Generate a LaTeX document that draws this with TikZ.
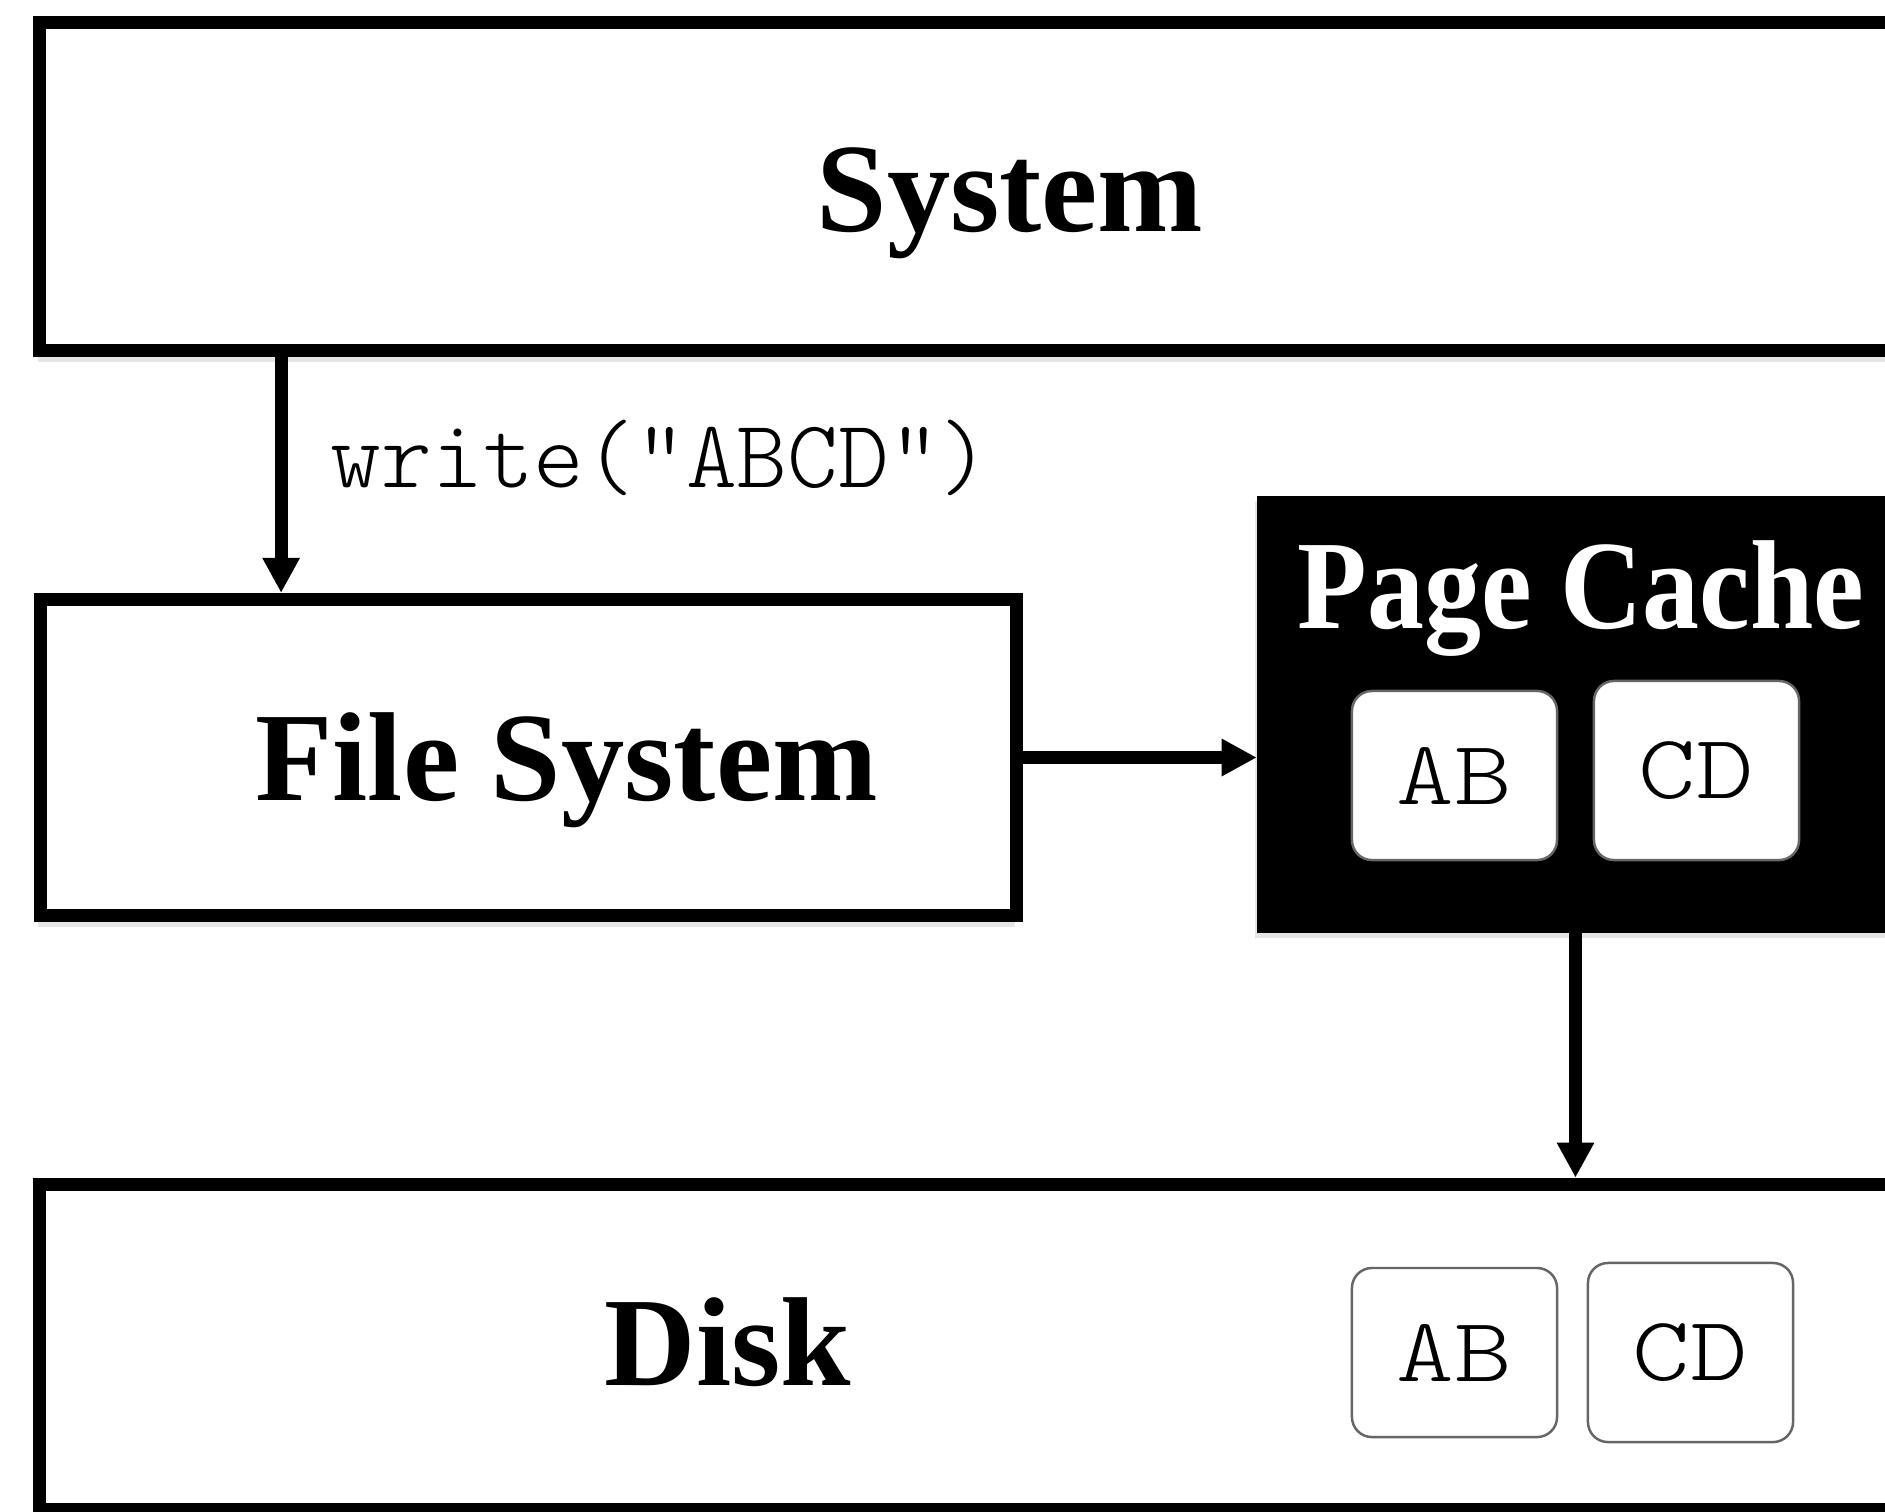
\documentclass[tikz,border=0pt]{standalone}
\usepackage{fontspec}
\setmainfont{Liberation Serif}
\setmonofont{Latin Modern Mono Light}
\usepackage{graphicx}
\usetikzlibrary{arrows.meta,calc,shadows}
\tikzset{>={Triangle[width=10pt,length=10pt]}}
\newcommand{\pagetext}[1]{\scalebox{1.2}[1]{#1}}

\begin{document}
\begin{tikzpicture}[x=0.01cm,y=-0.01cm,
	box/.style={draw=black,line width=3.7pt,fill=white,inner sep=0pt,
		drop shadow={shadow xshift=-0.6pt,shadow yshift=-3.2pt,opacity=.2}},
	title/.style={font=\fontsize{36}{40}\selectfont\bfseries,inner sep=0pt},
	page/.style={draw=black!60,line width=0.7pt,fill=white,rounded corners=5.7pt,
		inner sep=0pt,minimum width=2.05cm,font=\ttfamily\fontsize{26}{28}\selectfont},
	link/.style={->,line width=3.7pt}]
	\clip (0,0) rectangle (1885,1511);
	% layers
	\node[box,minimum width=19.39cm,minimum height=3.28cm] (sys) at (1010,186.5) {};
	\node[box,minimum width=9.76cm,minimum height=3.16cm] (fs) at (528.5,757.5) {};
	\node[fill=black,inner sep=0pt,outer sep=0pt,minimum width=6.48cm,minimum height=4.37cm,
		drop shadow={shadow xshift=-0.6pt,shadow yshift=-1.5pt,opacity=.2}] (pc) at (1581,714.5) {};
	\node[box,minimum width=19.39cm,minimum height=3.255cm] (disk) at (1010,1347) {};
	% titles
	\node[title,anchor=base] (sysT) at (1010,231) {System};
	\node[title,anchor=base] (fsT) at (566.5,800) {File System};
	\node[title,anchor=base,text=white] (pcT) at (1581,628) {\scalebox{.9}[1]{Page Cache}};
	\node[title,anchor=base] (diskT) at (728,1385) {Disk};
	% pages
	\node[page,minimum height=1.69cm] (cab) at (1454.5,775.5) {\pagetext{AB}};
	\node[page,minimum height=1.79cm] (ccd) at (1696.5,770.5) {\pagetext{CD}};
	\node[page,minimum height=1.69cm] (dab) at (1454.5,1352.5) {\pagetext{AB}};
	\node[page,minimum height=1.79cm] (dcd) at (1690.5,1352.5) {\pagetext{CD}};
	% arrows
	\coordinate (wr) at ($(fs.north west)!.25!(fs.north east)$);
	\draw[link] (sys.south -| wr) -- (wr);
	\node[anchor=base west,inner sep=0pt,font=\ttfamily\fontsize{27.5}{29}\selectfont] (call) at (330,487) {write(“ABCD”)};
	\draw[link] (fs.east) -- (fs.east -| pc.west);
	\coordinate (fl) at ($(cab.east)!.5!(ccd.west)$);
	\draw[link] (pc.south -| fl) -- (disk.north -| fl);
\end{tikzpicture}
\end{document}
